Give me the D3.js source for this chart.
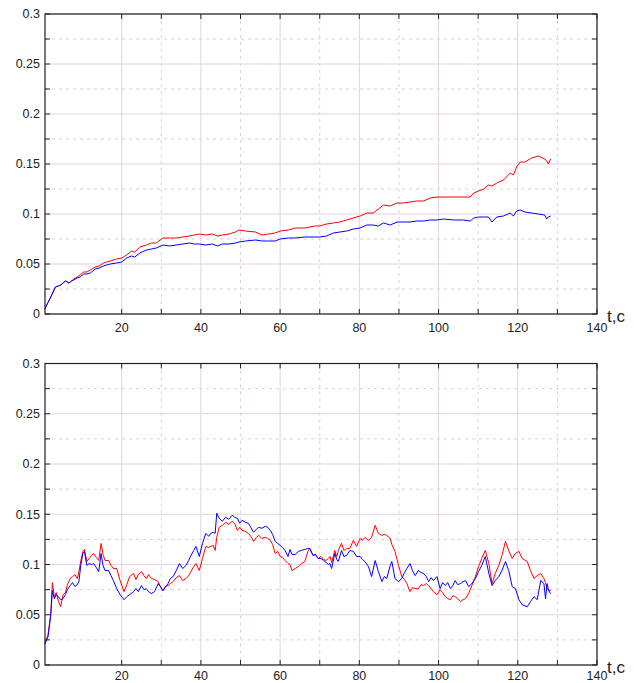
<!DOCTYPE html>
<html>
<head>
<meta charset="utf-8">
<script src="https://cdn.jsdelivr.net/npm/d3@7"></script>
<style>
  html, body { margin: 0; padding: 0; background: #fff; }
  svg { display: block; }
  text { font-family: "Liberation Sans", Arial, sans-serif; fill: #222; }
</style>
</head>
<body>
<svg id="chart" width="634" height="683"></svg>
<script>
// Axis ticks
const xTicks = [20, 40, 60, 80, 100, 120, 140];
const xMinor = [30, 50, 70, 90, 110, 130];
const yTicks = [0, 0.05, 0.1, 0.15, 0.2, 0.25, 0.3];
const yMinor = [0.025, 0.075, 0.125, 0.175, 0.225, 0.275];
const xLabel = "t,c";

// Upper panel: time and the two series
const tTop = [0.6,1.2,2.1,2.8,3.3,4.0,4.6,5.2,5.8,6.7,7.3,7.9,8.75,9.5,10.4,11.2,12.1,13.3,14.3,15.4,16.2,17.1,18.75,20.0,21.25,22.5,23.3,24.6,26.25,27.5,28.75,30.4,32.1,33.75,35.4,37.1,38.3,39.6,41.25,42.9,44.2,45.4,47.1,48.75,49.6,51.25,53.75,55.4,57.1,58.75,60.0,62.1,63.75,66.25,68.75,70.0,71.7,73.4,75.1,76.8,78.5,80.2,81.9,83.5,84.8,86.1,87.8,89.5,91.1,92.8,94.5,96.2,97.9,99.6,101.3,103.8,106.3,108.0,108.9,110.1,111.4,112.6,113.5,114.7,116.4,118.1,118.9,119.7,120.6,121.8,123.5,125.2,126.8,127.3,127.7,128.3];
const redTop = [0.005,0.010,0.017,0.023,0.027,0.028,0.029,0.031,0.033,0.031,0.033,0.035,0.037,0.039,0.042,0.042,0.044,0.047,0.048,0.051,0.052,0.053,0.055,0.056,0.059,0.063,0.062,0.067,0.069,0.071,0.071,0.076,0.076,0.076,0.077,0.078,0.079,0.080,0.079,0.080,0.078,0.079,0.080,0.082,0.084,0.083,0.082,0.079,0.080,0.081,0.083,0.084,0.086,0.086,0.088,0.088,0.090,0.091,0.092,0.094,0.096,0.098,0.101,0.101,0.105,0.109,0.108,0.111,0.111,0.112,0.113,0.113,0.116,0.117,0.117,0.117,0.117,0.117,0.121,0.123,0.125,0.129,0.128,0.131,0.134,0.141,0.139,0.147,0.152,0.152,0.156,0.158,0.155,0.153,0.150,0.155];
const blueTop = [0.005,0.010,0.017,0.023,0.027,0.028,0.029,0.031,0.033,0.031,0.033,0.034,0.036,0.037,0.040,0.040,0.041,0.045,0.046,0.048,0.049,0.050,0.051,0.052,0.056,0.058,0.057,0.061,0.064,0.065,0.066,0.069,0.068,0.069,0.070,0.071,0.070,0.070,0.069,0.070,0.068,0.070,0.070,0.071,0.072,0.073,0.074,0.073,0.073,0.073,0.075,0.076,0.076,0.077,0.077,0.077,0.078,0.081,0.082,0.083,0.085,0.086,0.089,0.089,0.088,0.091,0.089,0.092,0.092,0.092,0.093,0.093,0.094,0.094,0.095,0.094,0.094,0.093,0.096,0.097,0.097,0.097,0.092,0.097,0.098,0.101,0.098,0.103,0.104,0.102,0.101,0.100,0.099,0.095,0.097,0.098];

// Lower panel: time and the two series
const tBottom = [0.6,1.4,2.1,2.5,3.0,3.5,4.0,4.6,5.2,5.8,6.3,7.0,7.6,8.2,8.8,9.2,9.7,10.2,10.6,11.2,11.8,12.4,12.9,13.6,14.2,14.8,15.3,15.8,16.7,17.3,17.9,18.75,19.6,20.6,21.3,22.0,23.0,23.6,24.2,25.0,25.6,26.2,26.8,27.5,28.3,29.2,29.8,30.4,31.0,31.7,32.3,33.0,33.8,34.6,35.4,36.25,36.9,37.5,38.2,38.75,39.6,40.4,41.25,42.0,42.5,43.1,43.6,44.0,44.6,45.4,46.25,47.0,47.9,48.5,49.2,49.8,50.4,51.2,52.0,52.6,53.3,54.0,54.6,55.4,56.25,56.9,57.5,58.1,58.75,59.4,60.0,60.6,61.25,62.0,62.5,63.0,63.8,64.6,65.4,66.25,67.0,67.5,68.3,68.9,69.6,70.3,71.0,71.6,72.2,72.6,73.0,73.8,74.3,74.7,75.5,76.1,76.8,77.6,78.5,79.3,80.2,80.8,81.4,82.3,83.1,84.0,84.8,85.7,86.3,86.9,87.8,88.2,89.0,89.9,90.7,91.4,92.0,92.8,93.4,94.1,94.9,95.6,96.2,96.9,97.5,98.1,98.7,99.6,100.4,101.0,101.7,102.3,103.0,103.6,104.2,104.8,105.5,106.2,106.8,107.6,108.4,109.3,110.1,110.9,111.8,112.7,113.5,114.3,115.2,116.0,116.9,117.7,118.6,119.4,120.3,121.1,122.4,123.2,124.1,124.9,125.8,126.6,127.0,127.4,127.8,128.3];
const redBottom = [0.021,0.030,0.051,0.082,0.068,0.072,0.064,0.058,0.070,0.072,0.080,0.086,0.088,0.090,0.086,0.093,0.104,0.113,0.115,0.103,0.106,0.109,0.111,0.107,0.104,0.121,0.110,0.104,0.104,0.099,0.096,0.096,0.084,0.073,0.080,0.088,0.091,0.085,0.090,0.093,0.089,0.086,0.090,0.086,0.085,0.083,0.078,0.074,0.078,0.079,0.081,0.083,0.087,0.089,0.084,0.086,0.089,0.093,0.098,0.101,0.094,0.106,0.118,0.117,0.118,0.119,0.114,0.127,0.137,0.139,0.142,0.140,0.143,0.141,0.134,0.137,0.134,0.133,0.131,0.128,0.123,0.127,0.129,0.126,0.127,0.126,0.124,0.120,0.111,0.113,0.108,0.107,0.104,0.101,0.100,0.094,0.096,0.098,0.101,0.103,0.113,0.116,0.109,0.110,0.106,0.108,0.105,0.104,0.106,0.108,0.102,0.114,0.108,0.114,0.121,0.114,0.116,0.116,0.124,0.118,0.126,0.124,0.127,0.124,0.127,0.139,0.131,0.129,0.130,0.129,0.126,0.120,0.113,0.099,0.088,0.085,0.081,0.073,0.077,0.076,0.076,0.080,0.079,0.081,0.079,0.076,0.073,0.070,0.075,0.072,0.068,0.066,0.065,0.069,0.068,0.066,0.063,0.065,0.066,0.071,0.079,0.088,0.098,0.106,0.114,0.101,0.081,0.091,0.099,0.109,0.123,0.114,0.106,0.111,0.113,0.106,0.103,0.094,0.086,0.089,0.091,0.086,0.082,0.076,0.074,0.074];
const blueBottom = [0.021,0.028,0.050,0.074,0.066,0.070,0.068,0.065,0.066,0.070,0.075,0.079,0.082,0.078,0.080,0.083,0.100,0.111,0.113,0.099,0.101,0.100,0.101,0.097,0.093,0.111,0.099,0.094,0.094,0.089,0.084,0.076,0.070,0.065,0.068,0.070,0.073,0.076,0.073,0.079,0.075,0.076,0.073,0.071,0.073,0.081,0.078,0.074,0.077,0.081,0.086,0.088,0.094,0.101,0.096,0.099,0.104,0.109,0.114,0.118,0.108,0.121,0.131,0.128,0.131,0.132,0.131,0.151,0.146,0.143,0.147,0.145,0.149,0.147,0.146,0.141,0.144,0.142,0.141,0.137,0.132,0.135,0.137,0.136,0.138,0.137,0.134,0.130,0.123,0.121,0.119,0.117,0.114,0.108,0.115,0.110,0.110,0.113,0.114,0.115,0.116,0.116,0.109,0.110,0.106,0.106,0.104,0.102,0.100,0.101,0.096,0.111,0.105,0.103,0.114,0.108,0.109,0.114,0.113,0.108,0.108,0.105,0.103,0.098,0.088,0.104,0.093,0.083,0.088,0.086,0.099,0.103,0.086,0.083,0.086,0.092,0.096,0.101,0.094,0.089,0.094,0.092,0.091,0.088,0.083,0.087,0.084,0.088,0.076,0.082,0.079,0.082,0.076,0.079,0.084,0.080,0.081,0.083,0.084,0.078,0.081,0.086,0.093,0.099,0.108,0.091,0.079,0.084,0.088,0.094,0.103,0.094,0.078,0.076,0.065,0.060,0.058,0.063,0.068,0.065,0.084,0.081,0.066,0.081,0.074,0.071];

const svg = d3.select("#chart");
const left = 45, right = 597;
const x = d3.scaleLinear().domain([0.64, 140]).range([left, right]);

function panel(top, bottom, t, red, blue, labelGap) {
  const y = d3.scaleLinear().domain([0, 0.3]).range([bottom, top]);
  const g = svg.append("g");
  const w = right - left, h = bottom - top;

  // minor grid (dashed)
  g.append("g").selectAll("line").data(xMinor).join("line")
    .attr("x1", d => x(d)).attr("x2", d => x(d)).attr("y1", top).attr("y2", bottom)
    .attr("stroke", "#dfcbe0").attr("stroke-dasharray", "3,4");
  g.append("g").selectAll("line").data(yMinor).join("line")
    .attr("y1", d => y(d)).attr("y2", d => y(d)).attr("x1", left).attr("x2", right)
    .attr("stroke", "#dfcbe0").attr("stroke-dasharray", "3,4");
  // major grid (solid)
  g.append("g").selectAll("line").data(xTicks).join("line")
    .attr("x1", d => x(d)).attr("x2", d => x(d)).attr("y1", top).attr("y2", bottom)
    .attr("stroke", "#e2d2e4");
  g.append("g").selectAll("line").data(yTicks).join("line")
    .attr("y1", d => y(d)).attr("y2", d => y(d)).attr("x1", left).attr("x2", right)
    .attr("stroke", "#e2d2e4");

  // series
  const line = d3.line().x(d => x(d[0])).y(d => y(d[1]));
  g.append("path").datum(d3.zip(t, red)).attr("d", line)
    .attr("fill", "none").attr("stroke", "#ff0000").attr("stroke-width", 1);
  g.append("path").datum(d3.zip(t, blue)).attr("d", line)
    .attr("fill", "none").attr("stroke", "#0000ff").attr("stroke-width", 1);

  // inward ticks on all four sides
  const allX = xTicks.concat(xMinor), allY = yTicks.concat(yMinor);
  const tk = g.append("g").attr("stroke", "#222");
  allX.forEach(d => {
    tk.append("line").attr("x1", x(d)).attr("x2", x(d)).attr("y1", top).attr("y2", top + 5);
    tk.append("line").attr("x1", x(d)).attr("x2", x(d)).attr("y1", bottom).attr("y2", bottom - 5);
  });
  allY.forEach(d => {
    tk.append("line").attr("x1", left).attr("x2", left + 5).attr("y1", y(d)).attr("y2", y(d));
    tk.append("line").attr("x1", right).attr("x2", right - 5).attr("y1", y(d)).attr("y2", y(d));
  });

  // frame
  g.append("rect").attr("x", left).attr("y", top).attr("width", w).attr("height", h)
    .attr("fill", "none").attr("stroke", "#222").attr("stroke-width", 1.2);

  // tick labels
  g.append("g").selectAll("text").data(yTicks).join("text")
    .attr("x", left - 5).attr("y", d => y(d)).attr("dy", "0.35em")
    .attr("text-anchor", "end").attr("font-size", 12.5)
    .text(d => d3.format("~g")(d));
  g.append("g").selectAll("text").data(xTicks).join("text")
    .attr("x", d => x(d)).attr("y", bottom + labelGap)
    .attr("text-anchor", "middle").attr("font-size", 12.5)
    .text(d => d);
  g.append("text").attr("x", right + 10).attr("y", bottom + 8)
    .attr("font-size", 17).text(xLabel);
}

panel(14, 314, tTop, redTop, blueTop, 18);
panel(363.5, 665, tBottom, redBottom, blueBottom, 14.5);
</script>
</body>
</html>
